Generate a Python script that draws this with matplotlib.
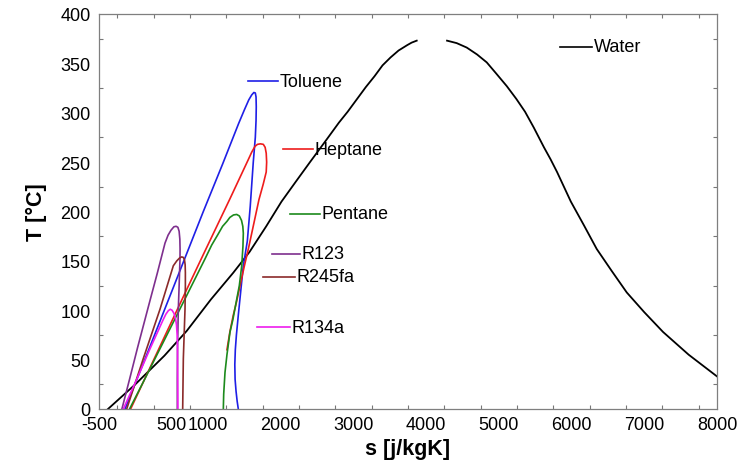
import numpy as np
import matplotlib.pyplot as plt
from matplotlib.ticker import FixedLocator

plt.rcParams['font.family'] = ['Liberation Sans', 'DejaVu Sans']

# water saturation dome (liquid and vapour branches, gap at the critical point)
water_liq_s = [-376, 0, 400, 706, 1040, 1347, 1570, 1800, 2010, 2205, 2402, 2632, 2800, 2920, 3060, 3170, 3290, 3400, 3510, 3620, 3740, 3800, 3870]
water_liq_T = [0, 25, 54, 79, 111, 138, 159, 185, 210, 230, 250, 273, 290, 301, 315, 326, 337, 348, 356, 363, 368.5, 371, 373]
water_vap_s = [4287, 4420, 4558, 4700, 4833, 4960, 5108, 5240, 5360, 5480, 5620, 5710, 5800, 5895, 5990, 6170, 6346, 6550, 6759, 7000, 7258, 7610, 8000]
water_vap_T = [373, 370.5, 366, 359, 351, 340, 327, 314, 301, 285, 265, 253, 240, 225, 210, 186, 162, 140, 118, 98, 78, 55, 33]

toluene_s = [-142, 10, 200, 420, 640, 935, 1200, 1420, 1500, 1560, 1600, 1630, 1650, 1660, 1663, 1660, 1650, 1622, 1580, 1540, 1485, 1416, 1390, 1375, 1368, 1372, 1385, 1400, 1416]
toluene_T = [0, 28, 63, 104, 145, 200, 248, 289, 303, 313, 318, 320.5, 320, 316, 306, 292, 275, 250, 205, 170, 145, 95, 75, 60, 45, 30, 18, 8, 0]

heptane_s = [-65, 120, 400, 700, 958, 1302, 1550, 1600, 1646, 1680, 1720, 1760, 1785, 1800, 1806, 1800, 1760, 1700, 1630, 1554, 1500, 1440, 1390, 1347, 1300, 1260]
heptane_T = [0, 29, 73, 120, 160, 213, 252, 260, 266, 268, 268.5, 268, 265, 259, 250, 240, 228, 212, 188, 162, 145, 125, 108, 95, 78, 60]

pentane_s = [-80, 100, 400, 700, 958, 1050, 1130, 1200, 1260, 1300, 1350, 1394, 1430, 1460, 1478, 1485, 1480, 1463, 1430, 1394, 1340, 1302, 1260, 1233, 1215, 1210]
pentane_T = [0, 26, 70, 114, 152, 166, 176, 185, 190, 194, 196.5, 197, 195.5, 191, 185, 178, 165, 145, 125, 111, 90, 78, 55, 37, 15, 0]

r123_s = [-185, -80, 30, 202, 300, 408, 450, 490, 530, 560, 585, 602, 612, 615, 614, 600, 591, 580, 577, 577]
r123_T = [0, 30, 62, 110, 137, 168, 176, 181, 184.5, 185, 184, 180, 172, 162, 152, 120, 101, 60, 30, 0]

r245fa_s = [-119, 109, 339, 522, 570, 610, 637, 660, 676, 685, 688, 688, 683, 660, 651]
r245fa_T = [0, 51, 101, 145, 150, 153, 154, 153.5, 151, 146, 138, 125, 101, 51, 0]

r134a_s = [-166, 19, 202, 380, 420, 453, 480, 505, 530, 552, 566, 575, 580, 583, 585]
r134a_T = [0, 30, 61, 90, 96, 99.5, 101, 100, 97, 92, 85, 75, 60, 30, 0]

fluids = [
    ('Toluene', toluene_s, toluene_T, '#1f1fe6'),
    ('Heptane', heptane_s, heptane_T, '#ee1c1c'),
    ('Pentane', pentane_s, pentane_T, '#1c8a1c'),
    ('R123', r123_s, r123_T, '#7e2f8e'),
    ('R245fa', r245fa_s, r245fa_T, '#8b2a2a'),
    ('R134a', r134a_s, r134a_T, '#ee1cee'),
]

# where the little label lines sit (data units: x start, x end, y)
label_pos = {
    'Toluene': (1550, 1962, 332),
    'Heptane': (2031, 2444, 263),
    'Pentane': (2127, 2540, 197.5),
    'R123': (1880, 2265, 157),
    'R245fa': (1756, 2196, 134),
    'R134a': (1673, 2127, 83),
    'Water': (5841, 6281, 367),
}

xtick_vals = [-500, 500, 1000, 2000, 3000, 4000, 5000, 6000, 7000, 8000]

fig = plt.figure(figsize=(7.41, 4.64), dpi=100)
ax = fig.add_axes([0.1336, 0.1164, 0.834, 0.8513])

ax.plot(water_liq_s, water_liq_T, color='k', lw=1.3)
ax.plot(water_vap_s, water_vap_T, color='k', lw=1.3)
for name, s, T, c in fluids:
    ax.plot(s, T, color=c, lw=1.2)

for name, s, T, c in fluids + [('Water', None, None, 'k')]:
    x0, x1, y = label_pos[name]
    ax.plot([x0, x1], [y, y], color=c, lw=1.2)
    ax.text(x1 + 20, y, name, fontsize=13, va='center', ha='left')

ax.set_xlim(-500, 8000)
ax.set_ylim(0, 400)
ax.set_xticks(xtick_vals)
ax.set_xticklabels([str(v) for v in xtick_vals])
ax.set_yticks(np.arange(0, 401, 50))
ax.xaxis.set_minor_locator(FixedLocator(np.arange(-250, 8000, 500)))
ax.yaxis.set_minor_locator(FixedLocator(np.arange(25, 400, 50)))
ax.tick_params(which='both', direction='in', top=True, right=True, colors='#777777', labelcolor='black', labelsize=13)
ax.tick_params(which='major', length=0)
ax.tick_params(axis='x', which='major', pad=5)
ax.tick_params(axis='y', which='major', pad=6)
ax.tick_params(which='minor', length=3, width=0.8)
for sp in ax.spines.values():
    sp.set_color('#7f7f7f')
    sp.set_linewidth(0.9)

ax.set_xlabel('s [j/kgK]', fontsize=15.5, fontweight='bold', labelpad=4)
ax.set_ylabel('T [°C]', fontsize=15.5, fontweight='bold', labelpad=10)

fig.savefig('out.png', dpi=100)
